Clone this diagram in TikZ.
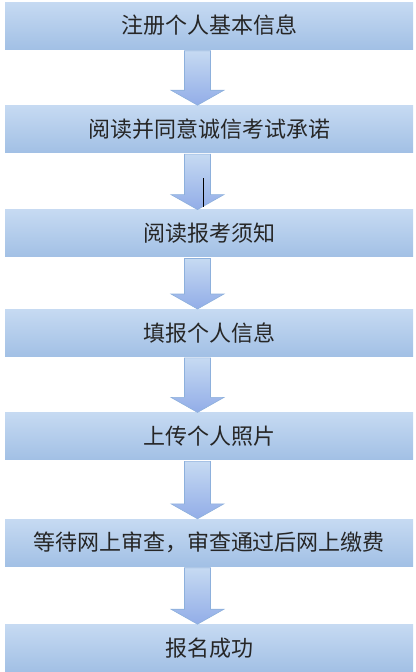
\documentclass[tikz,border=0pt]{standalone}
\usepackage{fontspec}
\newfontfamily\cjk{Noto Sans CJK SC}
\usetikzlibrary{positioning, calc}
\definecolor{boxtop}{HTML}{C6DAF2}
\definecolor{boxbottom}{HTML}{A2C0E5}
\definecolor{arrowline}{HTML}{8DB0DC}
\tikzset{
x=1pt, y=1pt,
node distance=57pt, % gap between two steps
stepbox/.style={minimum width=408pt, minimum height=47pt, inner sep=0pt,
  top color=boxtop, bottom color=boxbottom,
  font=\cjk\fontsize{22}{22}\selectfont, text=black!85}, % one step of the flow
flowarrow/.style={draw=arrowline, line width=0.6pt,
  top color=boxtop, bottom color=boxbottom!90!blue}, % the thick arrow between steps
}
% block arrow from the bottom of #1 to the top of #2
\newcommand{\steparrow}[2]{%
  \path[flowarrow] let \p1=($(#1.south)+(-11.5pt,-1.5pt)$), \p2=(#2.north) in
    (\x1-13pt,\y1) -- (\x1+13pt,\y1) -- (\x1+13pt,\y2+15pt) -- (\x1+26.5pt,\y2+15pt)
    -- (\x1,\y2) -- (\x1-26.5pt,\y2+15pt) -- (\x1-13pt,\y2+15pt) -- cycle;}

\begin{document}
\begin{tikzpicture}
  \useasboundingbox (0,0) rectangle (415,-672);

  \node[stepbox] (register) at (209,-25.5) {注册个人基本信息};
  \node[stepbox, below=56pt of register] (pledge) {阅读并同意诚信考试承诺};
  \node[stepbox, below=57pt of pledge] (notice) {阅读报考须知};
  \node[stepbox, below=52pt of notice] (fillin) {填报个人信息};
  \node[stepbox, below=56pt of fillin] (photo) {上传个人照片};
  \node[stepbox, below=59pt of photo] (review) {等待网上审查，审查通过后网上缴费};
  \node[stepbox, below=58pt of review] (done) {报名成功};

  \steparrow{register}{pledge}
  \steparrow{pledge}{notice}
  \steparrow{notice}{fillin}
  \steparrow{fillin}{photo}
  \steparrow{photo}{review}
  \steparrow{review}{done}

  \draw[line width=0.7pt] (203,-178) -- (203,-207);
\end{tikzpicture}
\end{document}
